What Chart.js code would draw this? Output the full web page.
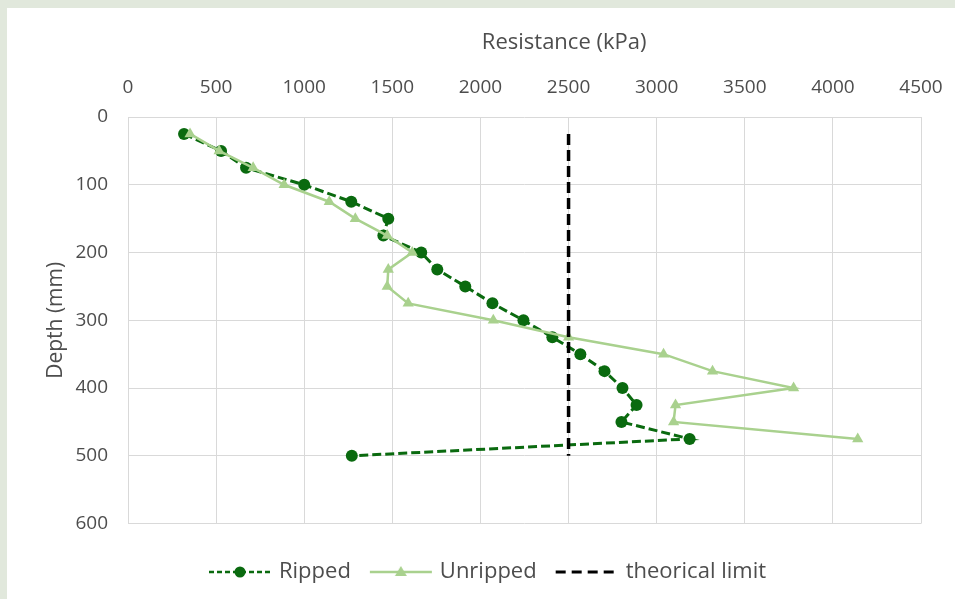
<!DOCTYPE html>
<html>
<head>
<meta charset="utf-8">
<script src="https://cdn.jsdelivr.net/npm/chart.js@4/dist/chart.umd.min.js"></script>
<style>
    html, body { margin: 0; padding: 0; }
    body { width: 955px; height: 599px; background: #e1e8dc; position: relative; overflow: hidden; }
    #panel { position: absolute; left: 7px; top: 8px; width: 948px; height: 591px; background: #fff; }
    #panel canvas { display: block; }
</style>
</head>
<body>
<div id="panel"><canvas id="chart" width="948" height="591"></canvas></div>
<script>
// depth in mm, resistance in kPa
const depthRipped = [25, 50, 75, 100, 125, 150, 175, 200, 225, 250, 275, 300, 325, 350, 375, 400, 425, 450, 475, 500];
const ripped = [318, 528, 670, 1000, 1267, 1477, 1449, 1664, 1755, 1914, 2068, 2244, 2408, 2567, 2704, 2806, 2886, 2800, 3187, 1270];

const depthUnripped = [25, 50, 75, 100, 125, 150, 175, 200, 225, 250, 275, 300, 325, 350, 375, 400, 425, 450, 475];
const unripped = [352, 517, 710, 886, 1142, 1290, 1471, 1613, 1477, 1471, 1590, 2073, 2500, 3039, 3317, 3777, 3107, 3096, 4141];

const limitDepth = [25, 500];
const limitValue = [2500, 2500];

const xTitle = 'Resistance (kPa)';
const yTitle = 'Depth (mm)';

const darkGreen = '#0a6a0f';
const lightGreen = '#a9d18e';
const textColor = '#4d4d4d';
const gridColor = '#d9d9d9';
const fontFamily = "'Open Sans', sans-serif";

function toPoints(xs, ys) {
    return xs.map((x, i) => ({ x: x, y: ys[i] }));
}

// small pictures used as legend symbols (line + marker)
function legendSymbol(color, dash, width, marker) {
    const c = document.createElement('canvas');
    c.width = 64;
    c.height = 16;
    const ctx = c.getContext('2d');
    ctx.strokeStyle = color;
    ctx.lineWidth = width;
    ctx.setLineDash(dash);
    ctx.beginPath();
    ctx.moveTo(1, 8);
    ctx.lineTo(63, 8);
    ctx.stroke();
    ctx.setLineDash([]);
    ctx.fillStyle = color;
    if (marker === 'circle') {
        ctx.beginPath();
        ctx.arc(32, 8, 5.5, 0, Math.PI * 2);
        ctx.fill();
    } else if (marker === 'triangle') {
        ctx.beginPath();
        ctx.moveTo(32, 2);
        ctx.lineTo(38, 12);
        ctx.lineTo(26, 12);
        ctx.closePath();
        ctx.fill();
    }
    return c;
}

const symbols = [
    legendSymbol(darkGreen, [5, 3], 2.5, 'circle'),
    legendSymbol(lightGreen, [], 2.5, 'triangle'),
    legendSymbol('#000', [10, 6], 3, null)
];

// axis title drawn above the top tick labels
const topTitle = {
    id: 'topTitle',
    afterDraw(chart) {
        const ctx = chart.ctx;
        ctx.save();
        ctx.font = '22px ' + fontFamily;
        ctx.fillStyle = textColor;
        ctx.textAlign = 'center';
        ctx.textBaseline = 'middle';
        ctx.fillText(xTitle, chart.chartArea.left + chart.chartArea.width * 0.55, 35);
        ctx.restore();
    }
};

const ctx = document.getElementById('chart').getContext('2d');
new Chart(ctx, {
    type: 'scatter',
    data: {
        datasets: [
            {
                label: 'Ripped',
                data: toPoints(ripped, depthRipped),
                showLine: true,
                borderColor: darkGreen,
                backgroundColor: darkGreen,
                borderWidth: 3,
                borderDash: [9, 4],
                pointStyle: 'circle',
                pointRadius: 6,
                pointBorderWidth: 0,
                order: 2
            },
            {
                label: 'Unripped',
                data: toPoints(unripped, depthUnripped),
                showLine: true,
                borderColor: lightGreen,
                backgroundColor: lightGreen,
                borderWidth: 2.5,
                pointStyle: 'triangle',
                pointRadius: 6.5,
                pointBorderWidth: 0,
                order: 1
            },
            {
                label: 'theorical limit',
                data: toPoints(limitValue, limitDepth),
                showLine: true,
                borderColor: '#000',
                backgroundColor: '#000',
                borderWidth: 3.5,
                borderDash: [11, 5],
                pointRadius: 0,
                order: 0
            }
        ]
    },
    options: {
        responsive: false,
        animation: false,
        layout: { padding: { left: 50, right: 34, top: 0, bottom: 6 } },
        plugins: {
            tooltip: { enabled: false },
            legend: {
                position: 'bottom',
                title: {
                    display: true,
                    text: ' ',
                    font: { size: 12 },
                    padding: { top: 0, bottom: 1 }
                },
                labels: {
                    usePointStyle: true,
                    pointStyleWidth: 56,
                    boxHeight: 16,
                    padding: 22,
                    color: textColor,
                    font: { family: fontFamily, size: 22 },
                    generateLabels(chart) {
                        return chart.data.datasets.map((ds, i) => ({
                            text: ds.label,
                            fontColor: textColor,
                            pointStyle: symbols[i],
                            datasetIndex: i,
                            lineWidth: 0,
                            hidden: false
                        }));
                    }
                }
            }
        },
        scales: {
            x: {
                type: 'linear',
                position: 'top',
                min: 0,
                max: 4500,
                ticks: {
                    stepSize: 500,
                    padding: 18,
                    color: textColor,
                    font: { family: fontFamily, size: 19 },
                    callback: v => String(v)
                },
                grid: { color: gridColor, drawTicks: false },
                border: { display: false },
                afterFit(scale) {
                    scale.height = 109;
                    scale.paddingLeft = 0;
                    scale.paddingRight = 0;
                }
            },
            y: {
                type: 'linear',
                reverse: true,
                min: 0,
                max: 600,
                ticks: {
                    stepSize: 100,
                    padding: 20,
                    color: textColor,
                    font: { family: fontFamily, size: 19 },
                    callback: v => String(v)
                },
                grid: { color: gridColor, drawTicks: false },
                border: { display: false },
                title: {
                    display: true,
                    text: yTitle,
                    color: textColor,
                    font: { family: fontFamily, size: 21 },
                    padding: { top: -14, bottom: 0 }
                },
                afterFit(scale) {
                    scale.width = 71;
                    scale.paddingTop = 0;
                    scale.paddingBottom = 0;
                }
            }
        }
    },
    plugins: [topTitle]
});
</script>
</body>
</html>
